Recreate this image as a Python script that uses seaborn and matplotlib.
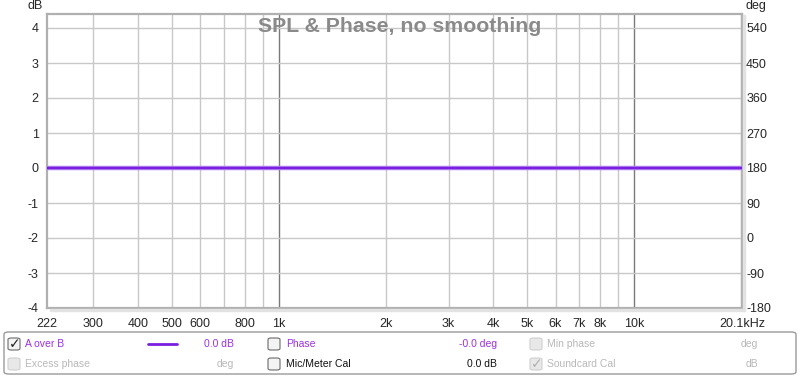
import numpy as np
import pandas as pd
import matplotlib
matplotlib.use('Agg')
import matplotlib.pyplot as plt
import seaborn as sns
from matplotlib.patches import FancyBboxPatch, Rectangle

# Data
freq_hz = [222, 300, 400, 500, 600, 800, 1000, 2000, 3000, 4000, 5000, 6000, 7000, 8000, 10000, 20100]
a_over_b_db = [0.0] * len(freq_hz)
xtick_vals = [222, 300, 400, 500, 600, 800, 1000, 2000, 3000, 4000, 5000, 6000, 7000, 8000, 10000, 20100]
xtick_labels = ['222', '300', '400', '500', '600', '800', '1k', '2k', '3k', '4k', '5k', '6k', '7k', '8k', '10k', '20.1kHz']
db_ticks = [-4, -3, -2, -1, 0, 1, 2, 3, 4]
deg_ticks = [-180, -90, 0, 90, 180, 270, 360, 450, 540]

sns.set_style('white')
plt.rcParams['font.family'] = ['Liberation Sans', 'DejaVu Sans']

df = pd.DataFrame({'freq': freq_hz, 'spl': a_over_b_db})

fig = plt.figure(figsize=(8, 3.77), dpi=100)

# soft shadow on right / bottom of the plot frame
fig.patches.append(Rectangle((743 / 800, 66 / 377), 2 / 800, 296 / 377, transform=fig.transFigure,
                             color='#e2e2e2', zorder=0))
fig.patches.append(Rectangle((50 / 800, 66 / 377), 695 / 800, 2 / 377, transform=fig.transFigure,
                             color='#e2e2e2', zorder=0))

ax = fig.add_axes([47 / 800, 69 / 377, 695 / 800, 294 / 377])

# grid
minor = [300, 400, 500, 600, 700, 800, 900, 2000, 3000, 4000, 5000, 6000, 7000, 8000, 9000, 20000]
for f in minor:
    ax.axvline(f, color='#c8c8c8', lw=1, zorder=0)
for f in [1000, 10000]:
    ax.axvline(f, color='#7a7a7a', lw=1, zorder=0)
for d in db_ticks:
    ax.axhline(d, color='#c8c8c8', lw=1, zorder=0)

sns.lineplot(data=df, x='freq', y='spl', ax=ax, color='#b07ff0', lw=3.2, zorder=3)
sns.lineplot(data=df, x='freq', y='spl', ax=ax, color='#7a1fe0', lw=1.6, zorder=4)

ax.set_xscale('log')
ax.set_xlim(222, 20100)
ax.set_ylim(-4, 4.4)
ax.set_xticks(xtick_vals)
ax.set_xticklabels(xtick_labels)
ax.xaxis.set_minor_locator(matplotlib.ticker.NullLocator())
ax.set_yticks(db_ticks)
ax.set_yticklabels([str(d) for d in db_ticks])
ax.tick_params(axis='x', length=0, labelsize=9, pad=7)
ax.tick_params(axis='y', length=0, labelsize=9, pad=6)
ax.set_xlabel('')
ax.set_ylabel('')
for s in ax.spines.values():
    s.set_color('#b0b0b0')
    s.set_linewidth(1.6)

ax2 = ax.twinx()
ax2.set_ylim(-180, 576)
ax2.set_yticks(deg_ticks)
ax2.set_yticklabels([str(d) for d in deg_ticks])
ax2.tick_params(axis='y', length=0, labelsize=9, pad=3)
for s in ax2.spines.values():
    s.set_visible(False)

fig.text(400 / 800, 1 - 26 / 377, 'SPL & Phase, no smoothing', ha='center', va='center',
         fontsize=15.3, fontweight='bold', color='#8a8a8a', zorder=5)
fig.text(35 / 800, 1 - 6 / 377, 'dB', ha='center', va='center', fontsize=9)
fig.text(756 / 800, 1 - 6 / 377, 'deg', ha='center', va='center', fontsize=9)

# legend panel
fig.patches.append(FancyBboxPatch((4 / 800, 3 / 377), 792 / 800, 42 / 377, transform=fig.transFigure,
                                  boxstyle='round,pad=0,rounding_size=0.006', facecolor='white',
                                  edgecolor='#9a9a9a', lw=1))

purple = '#9b30e8'
light = '#b8b8b8'


def checkbox(x, y, checked=False, enabled=True):
    ec = '#6a6a6a' if enabled else '#d0d0d0'
    fc = '#f4f4f4' if enabled else '#e8e8e8'
    fig.patches.append(FancyBboxPatch(((x) / 800, 1 - (y + 6) / 377), 12 / 800, 12 / 377,
                                      transform=fig.transFigure,
                                      boxstyle='round,pad=0,rounding_size=0.004',
                                      facecolor=fc, edgecolor=ec, lw=0.8))
    if checked:
        fig.text((x + 6.5) / 800, 1 - y / 377, '\u2713', ha='center', va='center', fontsize=10,
                 color='#222222' if enabled else '#b0b0b0', family=['DejaVu Sans'])


r1, r2 = 344, 364
checkbox(8, r1, checked=True)
fig.text(25 / 800, 1 - r1 / 377, 'A over B', va='center', fontsize=7.5, color=purple)
fig.add_artist(plt.Line2D([148 / 800, 177 / 800], [1 - r1 / 377, 1 - r1 / 377], color='#7a1fe0', lw=2))
fig.text(234 / 800, 1 - r1 / 377, '0.0 dB', va='center', ha='right', fontsize=7.5, color=purple)
checkbox(268, r1)
fig.text(286 / 800, 1 - r1 / 377, 'Phase', va='center', fontsize=7.5, color=purple)
fig.text(497 / 800, 1 - r1 / 377, '-0.0 deg', va='center', ha='right', fontsize=7.5, color=purple)
checkbox(530, r1, enabled=False)
fig.text(547 / 800, 1 - r1 / 377, 'Min phase', va='center', fontsize=7.5, color=light)
fig.text(758 / 800, 1 - r1 / 377, 'deg', va='center', ha='right', fontsize=7.5, color=light)

checkbox(8, r2, enabled=False)
fig.text(25 / 800, 1 - r2 / 377, 'Excess phase', va='center', fontsize=7.5, color=light)
fig.text(234 / 800, 1 - r2 / 377, 'deg', va='center', ha='right', fontsize=7.5, color=light)
checkbox(268, r2)
fig.text(286 / 800, 1 - r2 / 377, 'Mic/Meter Cal', va='center', fontsize=7.5, color='#111111')
fig.text(497 / 800, 1 - r2 / 377, '0.0 dB', va='center', ha='right', fontsize=7.5, color='#111111')
checkbox(530, r2, checked=True, enabled=False)
fig.text(547 / 800, 1 - r2 / 377, 'Soundcard Cal', va='center', fontsize=7.5, color=light)
fig.text(758 / 800, 1 - r2 / 377, 'dB', va='center', ha='right', fontsize=7.5, color=light)

fig.savefig('out.png', dpi=100)
